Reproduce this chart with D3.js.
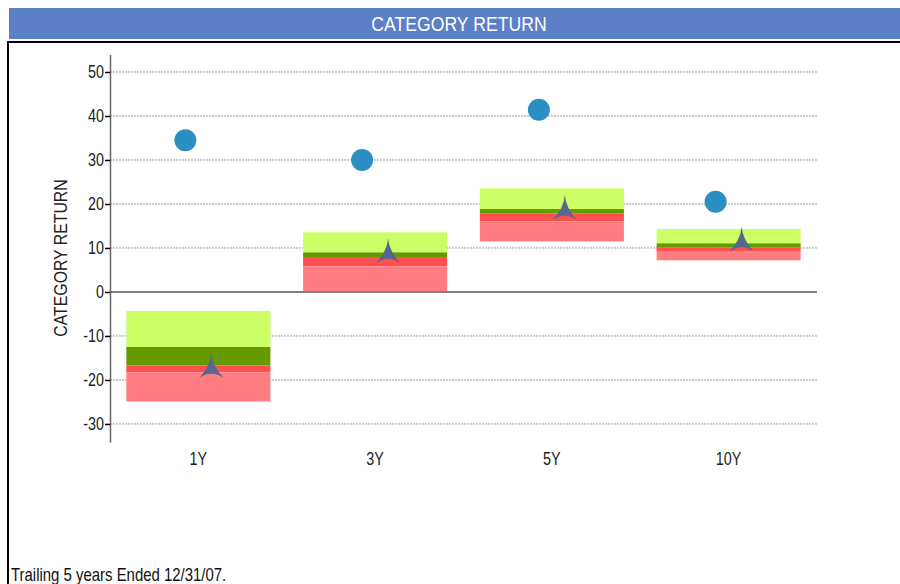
<!DOCTYPE html>
<html>
<head>
<meta charset="utf-8">
<script src="https://cdn.jsdelivr.net/npm/d3@7"></script>
<style>
  body { margin: 0; background: #fff; }
  svg text { font-family: "Liberation Sans", Arial, sans-serif; }
</style>
</head>
<body>
<script>
// data
var periods = ['1Y', '3Y', '5Y', '10Y']
var bandTop = [-4.3, 13.55, 23.55, 14.3]      // top of light green
var q1 = [-12.5, 9.0, 18.85, 11.05]          // top of dark green
var median = [-16.7, 7.95, 17.8, 10.1]       // top of red
var q3 = [-18.3, 5.8, 16.05, 9.15]           // top of pink
var bandBottom = [-24.9, 0.2, 11.5, 7.2]
var fundReturn = [34.5, 30.0, 41.4, 20.5]    // circles
var categoryAvg = [-17.7, 8.4, 18.2, 11.0]   // stars
var yTicks = [50, 40, 30, 20, 10, 0, -10, -20, -30]

var width = 900, height = 584
var narrowK = 0.82   // squeeze text to look like a narrow font

// squeeze text horizontally, keeping its anchor in place
function narrow(sel, k) {
    sel.each(function() {
        var t = d3.select(this)
        var x = +t.attr('x') || 0
        t.attr('x', x / k)
        var tr = t.attr('transform') || ''
        t.attr('transform', tr + ' scale(' + k + ',1)')
    })
}

var svg = d3.select('body').append('svg')
    .attr('width', width)
    .attr('height', height)

// title bar
svg.append('rect')
    .attr('x', 9).attr('y', 8)
    .attr('width', width - 9).attr('height', 31)
    .attr('fill', '#5b80c8')
svg.append('text')
    .attr('x', 459).attr('y', 31)
    .attr('text-anchor', 'middle')
    .attr('fill', '#fff')
    .style('font-size', '21px')
    .text('CATEGORY RETURN')
    .call(narrow, 0.84)

// frame
svg.append('path')
    .attr('d', 'M8,' + height + ' L8,42 L' + width + ',42')
    .attr('fill', 'none')
    .attr('stroke', '#000')
    .attr('stroke-width', 2)

var yscale = d3.scaleLinear()
    .domain([-34.1, 54])
    .range([442, 54.4])

var xscale = d3.scaleBand()
    .domain(periods)
    .range([110, 817])
    .paddingInner(0.185)
    .paddingOuter(0.0925)

// gridlines
svg.append('g')
    .selectAll('line')
    .data(yTicks.filter(function(d) { return d !== 0 }))
    .enter().append('line')
    .attr('x1', 110).attr('x2', 817)
    .attr('y1', function(d) { return yscale(d) })
    .attr('y2', function(d) { return yscale(d) })
    .attr('stroke', '#999')
    .attr('stroke-width', 1)
    .attr('stroke-dasharray', '2,1')

// zero line
svg.append('line')
    .attr('x1', 110).attr('x2', 817)
    .attr('y1', yscale(0)).attr('y2', yscale(0))
    .attr('stroke', '#555')
    .attr('stroke-width', 1.5)

// stacked range boxes
var segments = [
    { top: bandTop, bottom: q1, color: '#ccff66' },
    { top: q1, bottom: median, color: '#669900' },
    { top: median, bottom: q3, color: '#ff5050' },
    { top: q3, bottom: bandBottom, color: '#ff7c80' }
]
segments.forEach(function(s) {
    svg.append('g')
        .selectAll('rect')
        .data(periods)
        .enter().append('rect')
        .attr('x', function(d) { return xscale(d) })
        .attr('width', xscale.bandwidth())
        .attr('y', function(d, i) { return yscale(s.top[i]) })
        .attr('height', function(d, i) { return yscale(s.bottom[i]) - yscale(s.top[i]) })
        .attr('fill', s.color)
})

// y axis
var y_axis = d3.axisLeft(yscale)
    .tickValues(yTicks)
    .tickFormat(function(d) { return String(d) })
    .tickSize(5)
    .tickSizeOuter(0)
    .tickPadding(1)
var yg = svg.append('g')
    .attr('transform', 'translate(110,0)')
    .call(y_axis)
    .attr('font-family', null)
yg.select('.domain').attr('stroke', '#666').attr('stroke-width', 1.5)
yg.selectAll('.tick line').attr('stroke', '#000').attr('stroke-width', 1.5)
yg.selectAll('.tick text')
    .attr('fill', '#222')
    .style('font-size', '17.5px')
    .call(narrow, narrowK)

// x axis labels
var x_axis = d3.axisBottom(xscale).tickSize(0).tickPadding(11)
var xg = svg.append('g')
    .attr('transform', 'translate(0,442)')
    .call(x_axis)
    .attr('font-family', null)
xg.select('.domain').remove()
xg.selectAll('.tick text')
    .attr('fill', '#222')
    .style('font-size', '17.5px')
    .call(narrow, narrowK)

// y title
svg.append('text')
    .attr('transform', 'translate(67,258) rotate(-90)')
    .attr('text-anchor', 'middle')
    .attr('fill', '#222')
    .style('font-size', '18px')
    .text('CATEGORY RETURN')
    .call(narrow, 0.88)

// fund return circles
svg.append('g')
    .selectAll('circle')
    .data(periods)
    .enter().append('circle')
    .attr('cx', function(d) { return xscale(d) + xscale.bandwidth() / 2 - 13 })
    .attr('cy', function(d, i) { return yscale(fundReturn[i]) })
    .attr('r', 11)
    .attr('fill', '#2b8fc4')

// category stars
var star = 'M0,-17 Q1,-4 12,8 Q4,3 0,4 Q-4,3 -12,8 Q-1,-4 0,-17 Z'
svg.append('g')
    .selectAll('path')
    .data(periods)
    .enter().append('path')
    .attr('transform', function(d, i) {
        return 'translate(' + (xscale(d) + xscale.bandwidth() / 2 + 13) + ',' + yscale(categoryAvg[i]) + ')'
    })
    .attr('d', star)
    .attr('fill', '#56688f')

// footnote
svg.append('text')
    .attr('x', 11).attr('y', 581)
    .attr('fill', '#111')
    .style('font-size', '18px')
    .text('Trailing 5 years Ended 12/31/07.')
    .call(narrow, 0.83)
</script>
</body>
</html>
